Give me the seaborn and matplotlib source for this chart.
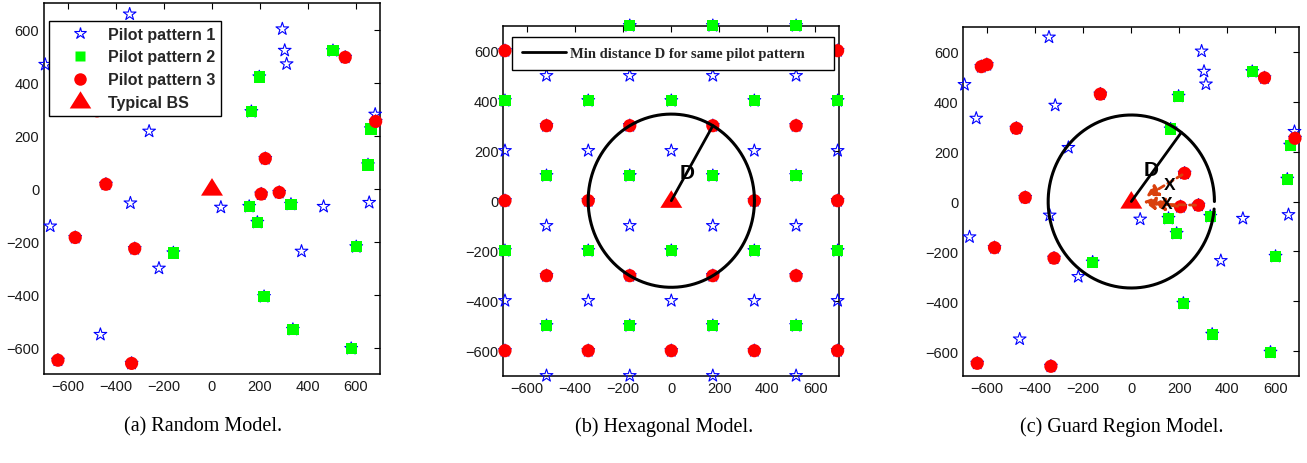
import matplotlib
matplotlib.use("Agg")
import matplotlib.pyplot as plt
import numpy as np
import pandas as pd
import seaborn as sns
from matplotlib.lines import Line2D
from matplotlib.markers import MarkerStyle
from matplotlib.path import Path

# ---- random drop of base stations (shared by the random and guard-region panels)
p1_x = [-343, -695, -317, -646, -262, 293, 303, 311, 680, -340, -674, -221, -465, 37, 465, 655, 373]
p1_y = [658, 468, 385, 333, 216, 602, 521, 470, 280, -55, -142, -301, -551, -71, -68, -53, -237]
p2_x = [504, 197, 164, 662, 650, -161, 155, 329, 189, 601, 217, 337, 580]
p2_y = [520, 421, 290, 225, 89, -243, -68, -60, -128, -220, -408, -532, -604]
p3_x = [-625, -602, -129, -479, -442, 555, 682, 222, -570, -322, -642, -335, 205, 280]
p3_y = [540, 548, 430, 293, 16, 495, 253, 113, -185, -227, -648, -660, -21, -15]

# ---- hexagonal deployment
hex1_x = [-520, -173, 173, 520,
          -693, -346, 0, 346, 693,
          -520, -173, 173, 520,
          -693, -346, 0, 346, 693,
          -520, -173, 173, 520]
hex1_y = [500, 500, 500, 500,
          200, 200, 200, 200, 200,
          -100, -100, -100, -100,
          -400, -400, -400, -400, -400,
          -700, -700, -700, -700]
hex2_x = [-173, 173, 520,
          -693, -346, 0, 346, 693,
          -520, -173, 173, 520,
          -693, -346, 0, 346, 693,
          -520, -173, 173, 520]
hex2_y = [700, 700, 700,
          400, 400, 400, 400, 400,
          100, 100, 100, 100,
          -200, -200, -200, -200, -200,
          -500, -500, -500, -500]
hex3_x = [-693, -346, 0, 346, 693,
          -520, -173, 173, 520,
          -693, -346, 346, 693,
          -520, -173, 173, 520,
          -693, -346, 0, 346, 693]
hex3_y = [600, 600, 600, 600, 600,
          300, 300, 300, 300,
          0, 0, 0, 0,
          -300, -300, -300, -300,
          -600, -600, -600, -600, -600]

# typical BS and the minimum reuse distance
bs_x = [0]
bs_y = [0]
D = 346.4
d_angle_hex = 60.0     # direction of the radius drawn in the hexagonal panel (deg)
d_angle_guard = 53.0   # direction of the radius drawn in the guard-region panel (deg)
guard_arc_end = 355.0  # the guard circle is drawn as an (almost closed) arc

# interferers inside the guard region (pattern 3) and where their arrows end
cut_x = [222, 205, 280]
cut_y = [113, -21, -15]
cut_end_x = [62, 50, 90]
cut_end_y = [20, 0, -10]

captions = ["(a) Random Model.", "(b) Hexagonal Model.", "(c) Guard Region Model."]
legend_labels = ["Pilot pattern 1", "Pilot pattern 2", "Pilot pattern 3", "Typical BS"]
hex_legend = "Min distance D for same pilot pattern"
ticks = [-600, -400, -200, 0, 200, 400, 600]

sns.set_style("white")
plt.rcParams["font.family"] = ["Liberation Sans", "DejaVu Sans"]
plt.rcParams["axes.unicode_minus"] = True

W, H = 1307, 464
fig = plt.figure(figsize=(W / 100, H / 100), dpi=100)


def box(l, t, r, b):
    return [l / W, 1 - b / H, (r - l) / W, (b - t) / H]


ax_a = fig.add_axes(box(44, 4, 380, 375))
ax_b = fig.add_axes(box(503.3, 26.7, 839.3, 376.7))
ax_c = fig.add_axes(box(963.3, 27.7, 1299.3, 377.3))

BLUE = "#0000ff"
GREEN = "#00ff00"
RED = "#ff0000"
ORANGE = "#d9400c"
tri = MarkerStyle(Path([(0, 0.95), (-1, -0.65), (1, -0.65), (0, 0.95)], closed=True))

S_STAR, S_SQ, S_DOT, S_TRI = 92, 66, 90, 250


def draw_bs(ax, x1, y1, x2, y2, x3, y3):
    allx = list(x1) + list(x2) + list(x3)
    ally = list(y1) + list(y2) + list(y3)
    d_all = pd.DataFrame({"x": allx, "y": ally})
    d2 = pd.DataFrame({"x": x2, "y": y2})
    d3 = pd.DataFrame({"x": x3, "y": y3})
    dbs = pd.DataFrame({"x": bs_x, "y": bs_y})
    sns.scatterplot(data=d_all, x="x", y="y", marker="*", s=S_STAR, color="none",
                    edgecolor=BLUE, linewidth=0.8, ax=ax, clip_on=False, zorder=3)
    sns.scatterplot(data=d2, x="x", y="y", marker="s", s=S_SQ, color=GREEN,
                    edgecolor="none", linewidth=0, ax=ax, clip_on=False, zorder=4)
    sns.scatterplot(data=d3, x="x", y="y", marker="o", s=S_DOT, color=RED,
                    edgecolor="none", linewidth=0, ax=ax, clip_on=False, zorder=4)
    sns.scatterplot(data=dbs, x="x", y="y", marker=tri, s=S_TRI, color=RED,
                    edgecolor="none", linewidth=0, ax=ax, clip_on=False, zorder=4)


def style_axes(ax):
    ax.set_xlim(-700, 700)
    ax.set_ylim(-700, 700)
    ax.set_xticks(ticks)
    ax.set_yticks(ticks)
    ax.set_xlabel("")
    ax.set_ylabel("")
    ax.tick_params(direction="in", top=True, right=True, length=4, width=0.8,
                   pad=3.5, labelsize=10.5, color="black", labelcolor="#1a1a1a")
    for sp in ax.spines.values():
        sp.set_visible(True)
        sp.set_color("black")
        sp.set_linewidth(1.1)
        sp.set_zorder(2)


def radius_line(ax, angle_deg):
    t = np.deg2rad(angle_deg)
    seg = pd.DataFrame({"x": [0, D * np.cos(t)], "y": [0, D * np.sin(t)]})
    sns.lineplot(data=seg, x="x", y="y", sort=False, estimator=None, color="black",
                 linewidth=2.0, ax=ax, zorder=5)


def circle(ax, end_deg):
    th = np.deg2rad(np.linspace(0, end_deg, 240))
    c = pd.DataFrame({"x": D * np.cos(th), "y": D * np.sin(th)})
    sns.lineplot(data=c, x="x", y="y", sort=False, estimator=None, color="black",
                 linewidth=2.2, ax=ax, zorder=5)


# (a) random model
draw_bs(ax_a, p1_x, p1_y, p2_x, p2_y, p3_x, p3_y)
style_axes(ax_a)
handles = [
    Line2D([], [], ls="none", marker="*", ms=9.2, mfc="none", mec=BLUE, mew=0.8),
    Line2D([], [], ls="none", marker="s", ms=7.6, mfc=GREEN, mec="none"),
    Line2D([], [], ls="none", marker="o", ms=9.0, mfc=RED, mec="none"),
    Line2D([], [], ls="none", marker=tri, ms=15.5, mfc=RED, mec="none"),
]
leg = ax_a.legend(handles, legend_labels, loc="upper left",
                  bbox_to_anchor=((48.7 - 44) / 336, 1 - (21.7 - 4) / 371),
                  borderaxespad=0, frameon=True, fancybox=False, framealpha=1,
                  edgecolor="black", borderpad=0.38, handlelength=3.2,
                  handletextpad=0.12, labelspacing=0.48,
                  prop={"family": "Liberation Sans", "weight": "bold", "size": 11.5})
leg.get_frame().set_linewidth(1.0)
leg.set_zorder(10)

# (b) hexagonal model
draw_bs(ax_b, hex1_x, hex1_y, hex2_x, hex2_y, hex3_x, hex3_y)
circle(ax_b, 360)
radius_line(ax_b, d_angle_hex)
style_axes(ax_b)
ax_b.text(68, 112, "D", ha="center", va="center", fontsize=15, fontweight="bold",
          color="black", zorder=6)
leg_b = ax_b.legend([Line2D([], [], color="black", lw=2.0)], [hex_legend],
                    loc="upper left",
                    bbox_to_anchor=((512.3 - 503.3) / 336, 1 - (37.7 - 26.7) / 350,
                                    322 / 336, 0.0),
                    mode="expand", borderaxespad=0, frameon=True, fancybox=False,
                    framealpha=1, edgecolor="black", borderpad=0.68,
                    handlelength=3.0, handletextpad=0.3,
                    prop={"family": "Liberation Serif", "weight": "bold", "size": 10.5})
leg_b.get_frame().set_linewidth(1.0)
leg_b.set_zorder(10)

# (c) guard region model
draw_bs(ax_c, p1_x, p1_y, p2_x, p2_y, p3_x, p3_y)
circle(ax_c, guard_arc_end)
radius_line(ax_c, d_angle_guard)
style_axes(ax_c)
for sx, sy, ex, ey in zip(cut_x, cut_y, cut_end_x, cut_end_y):
    ang = np.arctan2(ey - sy, ex - sx)
    ax_c.annotate("", xy=(ex, ey), xytext=(sx + 12 * np.cos(ang), sy + 12 * np.sin(ang)),
                  arrowprops=dict(arrowstyle="-|>,head_length=0.7,head_width=0.38",
                                  linestyle=(0, (2.2, 1.6)), lw=2.0, color=ORANGE,
                                  shrinkA=0, shrinkB=0),
                  zorder=6)
ax_c.text(82, 130, "D", ha="center", va="center", fontsize=15, fontweight="bold",
          color="black", zorder=7)
ax_c.text(160, 70, "X", ha="center", va="center", fontsize=12.5, fontweight="bold",
          color="black", zorder=7)
ax_c.text(146, -7, "X", ha="center", va="center", fontsize=12.5, fontweight="bold",
          color="black", zorder=7)

# sub-figure captions
for cx, txt in zip([203, 664, 1122], captions):
    fig.text(cx / W, 1 - 427 / H, txt, ha="center", va="center", fontsize=14.5,
             family="Liberation Serif", color="black")

fig.savefig("out.png", dpi=100, facecolor="white")
